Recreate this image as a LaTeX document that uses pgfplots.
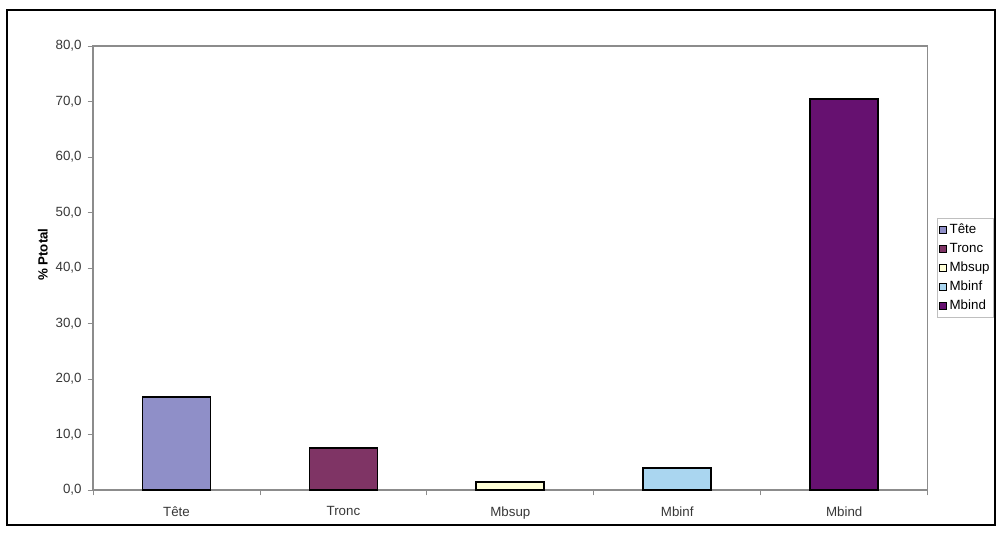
\documentclass[border=0pt]{standalone}
\usepackage{pgfplots}
\pgfplotsset{compat=1.18}
\usepackage{fontspec}
\setmainfont{Liberation Sans}
\definecolor{cTete}{HTML}{8F8FC8}
\definecolor{cTronc}{HTML}{7F3465}
\definecolor{cMbsup}{HTML}{FFFFD8}
\definecolor{cMbinf}{HTML}{AAD6F0}
\definecolor{cMbind}{HTML}{661170}
\definecolor{axgray}{HTML}{8C8C8C}
\begin{document}
\begin{tikzpicture}
\useasboundingbox (0,0) rectangle (751.5pt,399pt);
\fill[white] (0,0) rectangle (751.5pt,399pt);
\draw[black, line width=1pt] (5.25pt,5.25pt) rectangle (746.25pt,391.5pt);
\begin{axis}[
  at={(69.75pt,31.5pt)}, anchor=south west,
  scale only axis, width=626pt, height=333pt,
  xmin=-0.5, xmax=4.5, ymin=0, ymax=80,
  ytick={0,10,...,80},
  xtick={0,1,2,3,4},
  xticklabels={Tête,Tronc,Mbsup,Mbinf,Mbind},
  minor xtick={-0.5,0.5,1.5,2.5,3.5,4.5},
  major x tick style={draw=none},
  minor tick length=4pt,
  major tick length=4pt,
  tick align=outside,
  tick style={axgray, line width=0.6pt},
  xtick pos=bottom, ytick pos=left,
  axis line style={axgray, line width=1.1pt},
  font=\fontsize{10}{12}\selectfont,
  tick label style={font=\fontsize{10}{12}\selectfont, text=black!78},
  xticklabel style={yshift=-5pt},
  yticklabel style={xshift=-1pt, /pgf/number format/.cd, fixed, fixed zerofill, precision=1, use comma, assume math mode=true},
  ylabel={\bfseries \% Ptotal},
  ylabel style={at={(axis description cs:-0.06,0.53)}, anchor=center, font=\fontsize{10}{12}\selectfont},
  ybar, bar width=51pt, bar shift=0pt,
  legend style={at={([xshift=7pt]1,0.5)}, anchor=west, draw=black!25, line width=0.5pt,
    font=\fontsize{10}{12}\selectfont, inner xsep=1pt, inner ysep=2pt, row sep=1.6pt,
    legend cell align=left, /tikz/every even column/.append style={column sep=0pt}},
  legend image code/.code={\draw[#1, draw=black, line width=0.8pt] (0pt,-2.7pt) rectangle (5.4pt,2.7pt);},
]
\addplot[fill=cTete, draw=black, line width=1.3pt] coordinates {(0,16.7)};
\addplot[fill=cTronc, draw=black, line width=1.3pt] coordinates {(1,7.6)};
\addplot[fill=cMbsup, draw=black, line width=1.3pt] coordinates {(2,1.4)};
\addplot[fill=cMbinf, draw=black, line width=1.3pt] coordinates {(3,3.9)};
\addplot[fill=cMbind, draw=black, line width=1.3pt] coordinates {(4,70.4)};
\legend{Tête,Tronc,Mbsup,Mbinf,Mbind}
\end{axis}
\end{tikzpicture}
\end{document}
